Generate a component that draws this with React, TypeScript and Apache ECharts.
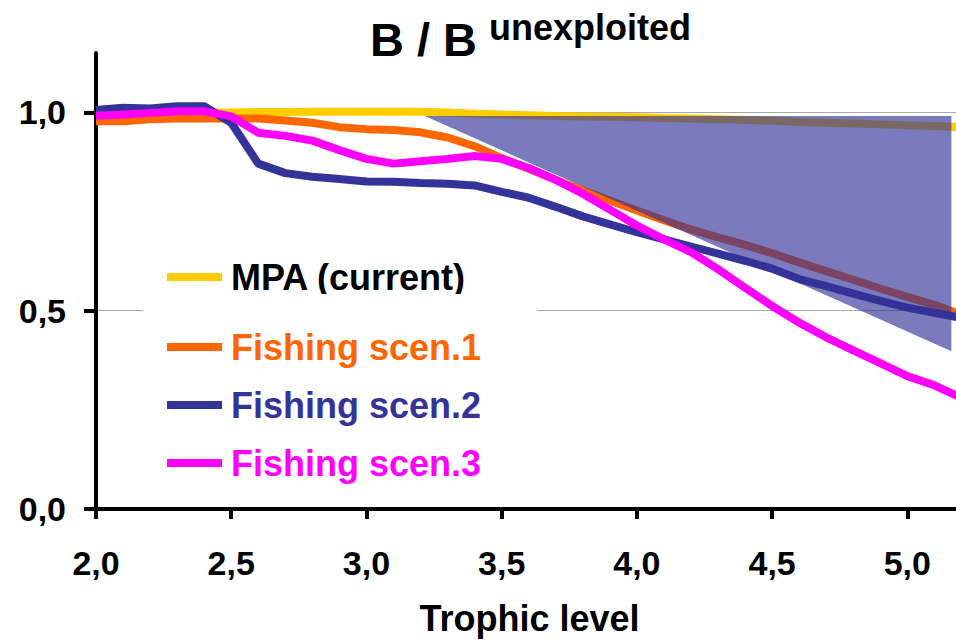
import { useEffect, useRef } from 'react';
import * as echarts from 'echarts';

// Trophic levels sampled every 0.1
const trophicLevels = [
  2.0, 2.1, 2.2, 2.3, 2.4, 2.5, 2.6, 2.7, 2.8, 2.9, 3.0, 3.1, 3.2, 3.3, 3.4, 3.5, 3.6,
  3.7, 3.8, 3.9, 4.0, 4.1, 4.2, 4.3, 4.4, 4.5, 4.6, 4.7, 4.8, 4.9, 5.0, 5.1, 5.2,
];

// Biomass relative to the unexploited state
const mpaCurrent = [
  1.0, 1.0, 1.0, 1.0, 1.0, 1.0, 1.001, 1.001, 1.002, 1.002, 1.002, 1.002, 1.002, 1.0, 0.997,
  0.995, 0.993, 0.991, 0.99, 0.989, 0.988, 0.986, 0.985, 0.983, 0.981, 0.979, 0.976, 0.974,
  0.972, 0.97, 0.968, 0.966, 0.963,
];
const fishingScen1 = [
  0.978, 0.978, 0.983, 0.985, 0.985, 0.985, 0.985, 0.98, 0.974, 0.963, 0.958, 0.956, 0.95,
  0.937, 0.915, 0.885, 0.858, 0.83, 0.803, 0.778, 0.753, 0.728, 0.705, 0.685, 0.666, 0.645,
  0.622, 0.6, 0.578, 0.556, 0.535, 0.515, 0.49,
];
const fishingScen2 = [
  1.006, 1.012, 1.01, 1.016, 1.016, 0.974, 0.871, 0.847, 0.838, 0.832, 0.826, 0.825, 0.822,
  0.82, 0.816, 0.8, 0.785, 0.762, 0.738, 0.718, 0.698, 0.68, 0.662, 0.644, 0.626, 0.606,
  0.58, 0.562, 0.543, 0.525, 0.508, 0.495, 0.482,
];
const fishingScen3 = [
  0.992, 0.995, 0.999, 1.003, 1.003, 0.99, 0.949, 0.941, 0.929, 0.905, 0.883, 0.871, 0.877,
  0.883, 0.89, 0.883, 0.86, 0.83, 0.795, 0.755, 0.715, 0.68, 0.648, 0.605, 0.558, 0.512,
  0.47, 0.433, 0.4, 0.368, 0.335, 0.312, 0.28,
];

// Shaded wedge between the protected and fished states
const wedgeX = [3.216, 5.163, 5.163];
const wedgeY = [0.991, 0.991, 0.398];

const xTicks = [2.0, 2.5, 3.0, 3.5, 4.0, 4.5, 5.0];
const yTicks = [0, 0.5, 1.0];

const seriesNames = ['MPA (current)', 'Fishing scen.1', 'Fishing scen.2', 'Fishing scen.3'];
const seriesColors = ['#FFCC00', '#FF6600', '#333399', '#FF00FF'];
const seriesValues = [mpaCurrent, fishingScen1, fishingScen2, fishingScen3];

const FONT = '"Liberation Sans", Arial, Helvetica, sans-serif';
const commaDecimal = (v: number) => v.toFixed(1).replace('.', ',');

export default function App() {
  const ref = useRef<HTMLDivElement>(null);

  useEffect(() => {
    if (!ref.current) return;
    const chart = echarts.init(ref.current, undefined, { renderer: 'svg' });

    const lines = seriesNames.map((name, k) => ({
      type: 'line',
      name,
      data: trophicLevels.map((x, i) => [x, seriesValues[k][i]]),
      showSymbol: false,
      symbol: 'none',
      clip: true,
      z: 2,
      itemStyle: { color: seriesColors[k] },
      lineStyle: { color: seriesColors[k], width: 8 },
    }));

    const legendText = {
      fontSize: 36,
      fontWeight: 'bold',
      fontFamily: FONT,
      lineHeight: 40,
      padding: [0, 0, 0, 4],
    };

    chart.setOption({
      animation: false,
      backgroundColor: '#fff',
      grid: { left: 96, right: 0, top: 53, bottom: 126, containLabel: false },
      xAxis: {
        type: 'value',
        min: 2,
        max: 5.18,
        interval: 0.5,
        axisLine: { show: true, lineStyle: { color: '#000', width: 4 } },
        axisTick: {
          show: true,
          length: 10,
          customValues: xTicks,
          lineStyle: { color: '#000', width: 4 },
        },
        axisLabel: {
          customValues: xTicks,
          formatter: commaDecimal,
          color: '#000',
          fontSize: 34,
          fontWeight: 'bold',
          fontFamily: FONT,
          margin: 37,
        },
        splitLine: { show: false },
        name: 'Trophic level',
        nameLocation: 'middle',
        nameGap: 91,
        nameTextStyle: {
          color: '#000',
          fontSize: 36,
          fontWeight: 'bold',
          fontFamily: FONT,
          padding: [0, 0, 0, 7],
        },
      },
      yAxis: {
        type: 'value',
        min: 0,
        max: 1.15,
        interval: 0.5,
        axisLine: { show: true, lineStyle: { color: '#000', width: 4 } },
        axisTick: {
          show: true,
          length: 12,
          customValues: yTicks,
          lineStyle: { color: '#000', width: 4 },
        },
        axisLabel: {
          customValues: yTicks,
          formatter: commaDecimal,
          color: '#000',
          fontSize: 34,
          fontWeight: 'bold',
          fontFamily: FONT,
          margin: 30,
        },
        splitLine: { show: true, lineStyle: { color: '#a8a8a8', width: 1 } },
      },
      legend: [
        {
          data: [{ name: seriesNames[0], textStyle: { color: '#000' } }],
          orient: 'vertical',
          left: 143,
          top: 257,
          padding: [0, 0, 0, 24],
          icon: 'rect',
          itemWidth: 55,
          itemHeight: 8,
          textStyle: legendText,
          z: 4,
        },
        {
          data: seriesNames.slice(1).map((name, k) => ({
            name,
            textStyle: { color: seriesColors[k + 1] },
          })),
          orient: 'vertical',
          left: 143,
          top: 294,
          padding: [33, 56, 12, 24],
          backgroundColor: '#fff',
          icon: 'rect',
          itemWidth: 55,
          itemHeight: 8,
          itemGap: 18,
          textStyle: legendText,
          z: 5,
        },
      ],
      graphic: [
        {
          type: 'text',
          x: 370,
          y: 39,
          style: {
            text: 'B / B',
            fontSize: 47,
            fontWeight: 'bold',
            fontFamily: FONT,
            fill: '#000',
            verticalAlign: 'middle',
          },
        },
        {
          type: 'text',
          x: 489,
          y: 27,
          style: {
            text: 'unexploited',
            fontSize: 36,
            fontWeight: 'bold',
            fontFamily: FONT,
            fill: '#000',
            verticalAlign: 'middle',
          },
        },
      ],
      series: [
        ...lines,
        {
          type: 'custom',
          name: 'wedge',
          silent: true,
          z: 3,
          data: wedgeX.map((x, i) => [x, wedgeY[i]]),
          encode: { x: 0, y: 1 },
          renderItem: (params: any, api: any) => {
            if (params.dataIndex !== 0) return null;
            const points = wedgeX.map((x, i) => api.coord([x, wedgeY[i]]));
            return {
              type: 'polygon',
              shape: { points },
              style: { fill: 'rgba(51,51,153,0.65)' },
            };
          },
        },
      ],
    });

    return () => chart.dispose();
  }, []);

  return (
    <div
      ref={ref}
      style={{ position: 'absolute', left: 0, top: 0, width: 956, height: 641 }}
    />
  );
}
